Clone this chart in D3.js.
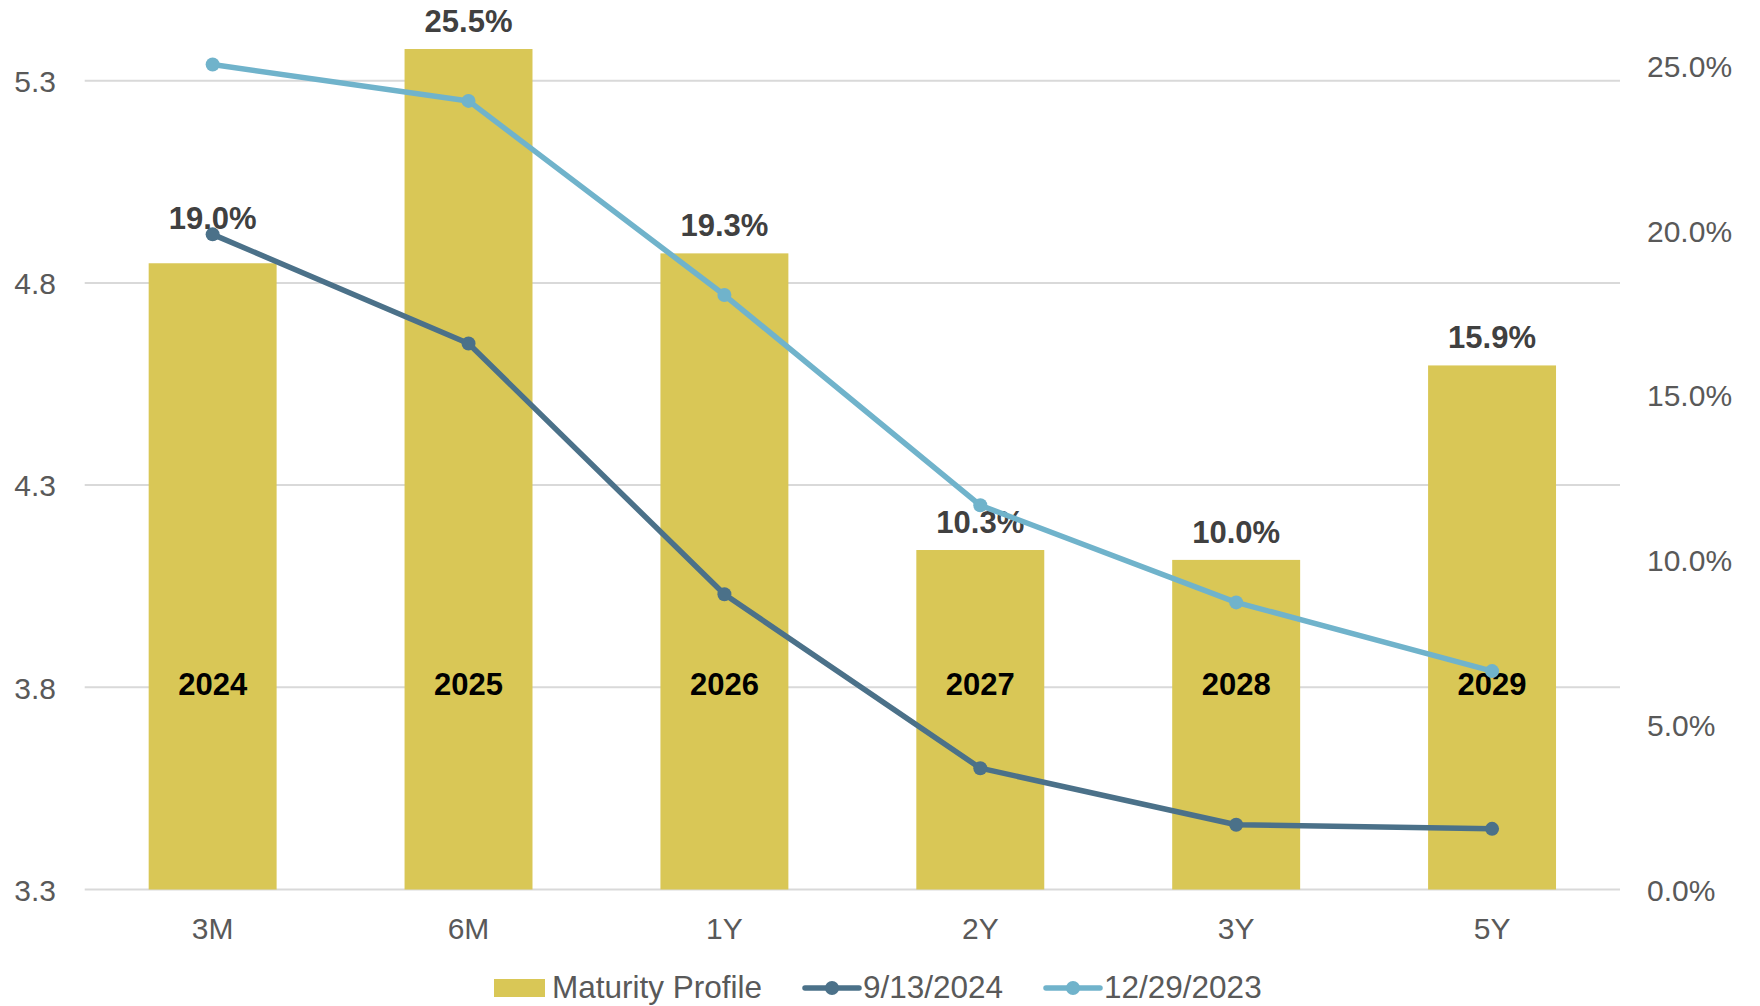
<!DOCTYPE html>
<html>
<head>
<meta charset="utf-8">
<script src="https://cdn.jsdelivr.net/npm/d3@7"></script>
<style>
  html, body { margin: 0; padding: 0; background: #ffffff; }
  svg { display: block; font-family: "Liberation Sans", Arial, sans-serif; }
</style>
</head>
<body>
<svg id="chart" width="1760" height="1006"></svg>
<script>
// Tenors on the x axis and the maturity year printed inside each bar
const tenors = ["3M", "6M", "1Y", "2Y", "3Y", "5Y"];
const maturityYears = ["2024", "2025", "2026", "2027", "2028", "2029"];

// Share of debt maturing in each year (right axis)
const maturityProfile = [0.190, 0.255, 0.193, 0.103, 0.100, 0.159];

// Treasury yield curves (left axis, %)
const yields20240913 = [4.92, 4.65, 4.03, 3.60, 3.46, 3.45];
const yields20231229 = [5.34, 5.25, 4.77, 4.25, 4.01, 3.84];

// Axis ticks
const leftTicks = [3.3, 3.8, 4.3, 4.8, 5.3];
const rightTicks = [0, 0.05, 0.10, 0.15, 0.20, 0.25];

const seriesNames = ["Maturity Profile", "9/13/2024", "12/29/2023"];

const colors = {
  bar: "#D9C756",
  dark: "#4B7189",
  light: "#70B3CB",
  grid: "#D9D9D9",
  tick: "#595959",
  value: "#404040",
  year: "#000000"
};

const svg = d3.select("#chart");

const plot = { left: 84.7, right: 1620, top: 80.7, bottom: 889.5 };

const x = d3.scaleBand()
  .domain(tenors)
  .range([plot.left, plot.right])
  .paddingInner(0.5)
  .paddingOuter(0.25);

const yLeft = d3.scaleLinear().domain([3.3, 5.3]).range([plot.bottom, plot.top]);
const yRight = d3.scaleLinear().domain([0, 0.25]).range([plot.bottom, 65.5]);

// Horizontal gridlines at the left-axis ticks
svg.append("g")
  .selectAll("line")
  .data(leftTicks)
  .join("line")
  .attr("x1", plot.left)
  .attr("x2", plot.right)
  .attr("y1", d => yLeft(d))
  .attr("y2", d => yLeft(d))
  .attr("stroke", colors.grid)
  .attr("stroke-width", 2);

// Left axis labels
const leftAxis = d3.axisLeft(yLeft).tickValues(leftTicks).tickFormat(d3.format(".1f")).tickSize(0).tickPadding(0);
const gL = svg.append("g").attr("transform", "translate(56,0)").call(leftAxis);
gL.select(".domain").remove();
gL.selectAll("text")
  .attr("fill", colors.tick)
  .attr("font-size", 30)
  .attr("font-family", "Liberation Sans, Arial, sans-serif")
  .attr("dy", "0.36em");

// Right axis labels
const rightAxis = d3.axisRight(yRight).tickValues(rightTicks).tickFormat(d3.format(".1%")).tickSize(0).tickPadding(0);
const gR = svg.append("g").attr("transform", "translate(1647,0)").call(rightAxis);
gR.select(".domain").remove();
gR.selectAll("text")
  .attr("fill", colors.tick)
  .attr("font-size", 30)
  .attr("font-family", "Liberation Sans, Arial, sans-serif")
  .attr("dy", "0.36em");

// Category axis labels
const bottomAxis = d3.axisBottom(x).tickSize(0).tickPadding(0);
const gB = svg.append("g").attr("transform", `translate(0,${plot.bottom})`).call(bottomAxis);
gB.select(".domain").remove();
gB.selectAll("text")
  .attr("fill", colors.tick)
  .attr("font-size", 30)
  .attr("font-family", "Liberation Sans, Arial, sans-serif")
  .attr("dy", null)
  .attr("y", 49);

// Bars
const barData = tenors.map((t, i) => ({ tenor: t, value: maturityProfile[i], year: maturityYears[i] }));

svg.append("g")
  .selectAll("rect")
  .data(barData)
  .join("rect")
  .attr("x", d => x(d.tenor))
  .attr("width", x.bandwidth())
  .attr("y", d => yRight(d.value))
  .attr("height", d => yRight(0) - yRight(d.value))
  .attr("fill", colors.bar);

// Year labels inside the bars
svg.append("g")
  .selectAll("text")
  .data(barData)
  .join("text")
  .attr("x", d => x(d.tenor) + x.bandwidth() / 2)
  .attr("y", yLeft(3.8) + 8)
  .attr("text-anchor", "middle")
  .attr("font-size", 31)
  .attr("font-weight", "bold")
  .attr("fill", colors.year)
  .text(d => d.year);

// Value labels above the bars (the 3M label sits higher to clear the yield curve)
const extraLift = { "3M": 17 };
svg.append("g")
  .selectAll("text")
  .data(barData)
  .join("text")
  .attr("x", d => x(d.tenor) + x.bandwidth() / 2)
  .attr("y", d => yRight(d.value) - 17 - (extraLift[d.tenor] || 0))
  .attr("text-anchor", "middle")
  .attr("font-size", 31)
  .attr("font-weight", "bold")
  .attr("fill", colors.value)
  .text(d => d3.format(".1%")(d.value));

// Yield curves
function drawCurve(values, color) {
  const pts = tenors.map((t, i) => [x(t) + x.bandwidth() / 2, yLeft(values[i])]);
  svg.append("path")
    .attr("d", d3.line()(pts))
    .attr("fill", "none")
    .attr("stroke", color)
    .attr("stroke-width", 5.5)
    .attr("stroke-linejoin", "round");
  svg.append("g")
    .selectAll("circle")
    .data(pts)
    .join("circle")
    .attr("cx", d => d[0])
    .attr("cy", d => d[1])
    .attr("r", 7)
    .attr("fill", color);
}
drawCurve(yields20240913, colors.dark);
drawCurve(yields20231229, colors.light);

// Legend
const legend = svg.append("g");
const legendY = 988;
const legendFont = 31.5;
legend.append("rect")
  .attr("x", 494).attr("y", 979).attr("width", 51).attr("height", 18)
  .attr("fill", colors.bar);
legend.append("text")
  .attr("x", 552).attr("y", 998)
  .attr("font-size", legendFont).attr("fill", colors.tick)
  .text(seriesNames[0]);

[[805, colors.dark, seriesNames[1]], [1046, colors.light, seriesNames[2]]].forEach(([lx, c, name]) => {
  legend.append("line")
    .attr("x1", lx).attr("x2", lx + 54)
    .attr("y1", legendY).attr("y2", legendY)
    .attr("stroke", c).attr("stroke-width", 5.5).attr("stroke-linecap", "round");
  legend.append("circle")
    .attr("cx", lx + 27).attr("cy", legendY).attr("r", 7).attr("fill", c);
  legend.append("text")
    .attr("x", lx + 58).attr("y", 998)
    .attr("font-size", legendFont).attr("fill", colors.tick)
    .text(name);
});
</script>
</body>
</html>
